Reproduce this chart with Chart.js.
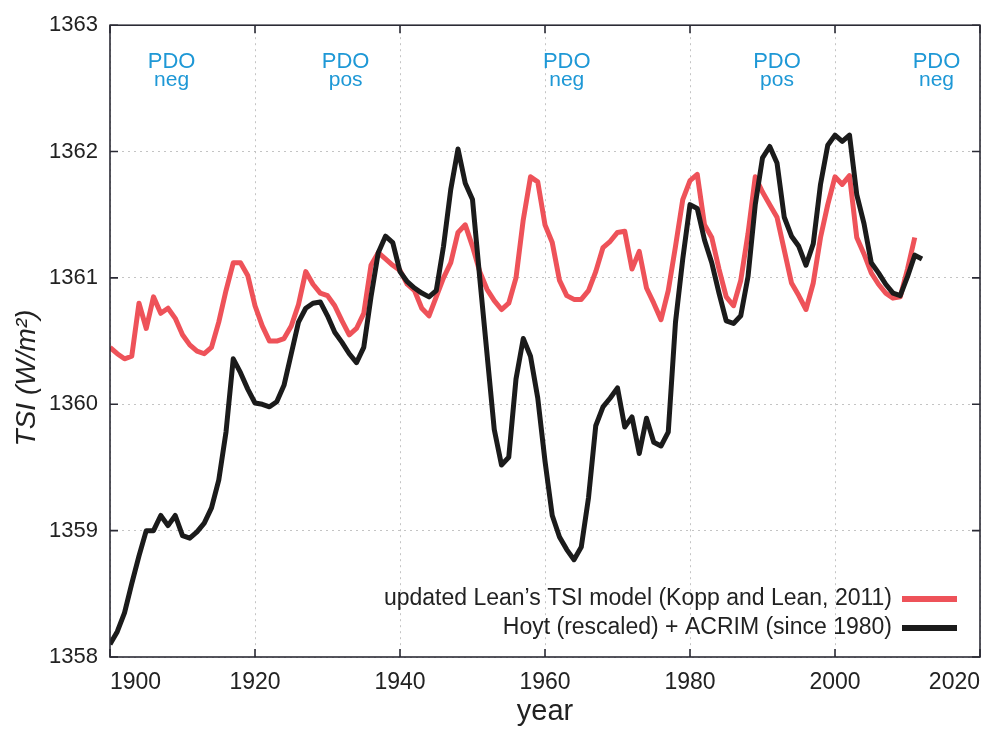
<!DOCTYPE html>
<html>
<head>
<meta charset="utf-8">
<title>TSI reconstructions and PDO phases</title>
<script src="https://cdn.jsdelivr.net/npm/chart.js@4.4.0/dist/chart.umd.min.js"></script>
<style>
  html, body { margin: 0; padding: 0; background: #fff; }
</style>
</head>
<body>
<canvas id="tsi" width="986" height="731"></canvas>
<script>
// ── Data (annual means, W/m2) ─────────────────────────────────────────
var startYear = 1900;

// updated Lean's TSI model, 1900..2011
var leanTSI = [
  1360.45, 1360.40, 1360.36, 1360.38, 1360.80, 1360.60, 1360.85, 1360.72, 1360.76, 1360.68,
  1360.55, 1360.47, 1360.42, 1360.40, 1360.45, 1360.65, 1360.90, 1361.12, 1361.12, 1361.02,
  1360.78, 1360.62, 1360.50, 1360.50, 1360.52, 1360.62, 1360.79, 1361.05, 1360.95, 1360.88,
  1360.86, 1360.78, 1360.66, 1360.55, 1360.60, 1360.72, 1361.10, 1361.20, 1361.15, 1361.10,
  1361.06, 1360.95, 1360.90, 1360.76, 1360.70, 1360.85, 1361.00, 1361.12, 1361.36, 1361.42,
  1361.25, 1361.05, 1360.91, 1360.82, 1360.75, 1360.80, 1361.00, 1361.46, 1361.80, 1361.76,
  1361.42, 1361.28, 1360.98, 1360.86, 1360.83, 1360.83, 1360.90, 1361.05, 1361.24, 1361.29,
  1361.36, 1361.37, 1361.07, 1361.21, 1360.92, 1360.80, 1360.67, 1360.90, 1361.25, 1361.62,
  1361.77, 1361.82, 1361.42, 1361.32, 1361.07, 1360.85, 1360.78, 1360.98, 1361.35, 1361.80,
  1361.68, 1361.58, 1361.48, 1361.22, 1360.96, 1360.86, 1360.75, 1360.96, 1361.32, 1361.58,
  1361.80, 1361.74, 1361.81, 1361.32, 1361.19, 1361.04, 1360.95, 1360.88, 1360.84, 1360.85,
  1361.07, 1361.32
];

// Hoyt (rescaled) + ACRIM, 1900..2012
var hoytACRIM = [
  1358.10, 1358.20, 1358.35, 1358.58, 1358.80, 1359.00, 1359.00, 1359.12, 1359.04, 1359.12,
  1358.96, 1358.94, 1358.99, 1359.06, 1359.18, 1359.40, 1359.78, 1360.36, 1360.25, 1360.12,
  1360.01, 1360.00, 1359.98, 1360.02, 1360.15, 1360.40, 1360.65, 1360.76, 1360.80, 1360.81,
  1360.70, 1360.57, 1360.49, 1360.40, 1360.33, 1360.45, 1360.85, 1361.20, 1361.33, 1361.28,
  1361.05, 1360.97, 1360.92, 1360.88, 1360.85, 1360.90, 1361.25, 1361.70, 1362.02, 1361.75,
  1361.62, 1361.00, 1360.40, 1359.80, 1359.52, 1359.58, 1360.20, 1360.52, 1360.38, 1360.05,
  1359.55, 1359.12, 1358.95, 1358.85, 1358.77, 1358.87, 1359.26, 1359.83, 1359.98, 1360.05,
  1360.13, 1359.82, 1359.90, 1359.61, 1359.89, 1359.70, 1359.67, 1359.78, 1360.65, 1361.15,
  1361.58, 1361.55, 1361.30, 1361.12, 1360.88, 1360.66, 1360.64, 1360.70, 1361.01, 1361.58,
  1361.95, 1362.04, 1361.91, 1361.48, 1361.33, 1361.25, 1361.10, 1361.27, 1361.74, 1362.05,
  1362.13, 1362.08, 1362.13, 1361.66, 1361.43, 1361.12, 1361.04, 1360.95, 1360.88, 1360.86,
  1361.01, 1361.18, 1361.15
];

var seriesLabels = [
  'updated Lean\u2019s TSI model (Kopp and Lean, 2011)',
  'Hoyt (rescaled) + ACRIM (since 1980)'
];

var xTicks = [1900, 1920, 1940, 1960, 1980, 2000, 2020];
var yTicks = [1358, 1359, 1360, 1361, 1362, 1363];

// PDO phase labels along the top of the plot
var pdoYears = [1908.5, 1932.5, 1963, 1992, 2014];
var pdoPhases = ['neg', 'pos', 'neg', 'pos', 'neg'];
var pdoValue = 1362.66;

// ── Helpers ───────────────────────────────────────────────────────────
function toPoints(values) {
  return values.map(function(v, i) { return { x: startYear + i, y: v }; });
}

var FONT = '"Liberation Sans", Arial, Helvetica, sans-serif';
var TEXT = '#222';

// ── Frame, inward ticks, annotations, legend, y title ────────────────
var decorations = {
  id: 'decorations',
  afterDraw: function(chart) {
    var ctx = chart.ctx;
    var a = chart.chartArea;
    var xs = chart.scales.x, ys = chart.scales.y;
    var tickLen = 8;

    ctx.save();
    // plot frame
    ctx.strokeStyle = '#2b2b35';
    ctx.lineWidth = 1.6;
    ctx.strokeRect(a.left, a.top, a.right - a.left, a.bottom - a.top);

    // inward tick marks
    ctx.beginPath();
    yTicks.forEach(function(v) {
      var py = ys.getPixelForValue(v);
      ctx.moveTo(a.left, py); ctx.lineTo(a.left + tickLen, py);
      ctx.moveTo(a.right, py); ctx.lineTo(a.right - tickLen, py);
    });
    xTicks.forEach(function(v) {
      var px = xs.getPixelForValue(v);
      ctx.moveTo(px, a.bottom); ctx.lineTo(px, a.bottom - tickLen);
      ctx.moveTo(px, a.top); ctx.lineTo(px, a.top + tickLen);
    });
    ctx.stroke();

    // PDO labels
    ctx.fillStyle = '#1e98d6';
    ctx.textAlign = 'center';
    ctx.textBaseline = 'alphabetic';
    pdoYears.forEach(function(yr, i) {
      var px = xs.getPixelForValue(yr);
      var py = ys.getPixelForValue(pdoValue);
      ctx.font = '22px ' + FONT;
      ctx.fillText('PDO', px, py);
      ctx.font = '21px ' + FONT;
      ctx.fillText(pdoPhases[i], px, py + 18);
    });

    // legend (bottom right, inside the plot)
    ctx.font = '23px ' + FONT;
    ctx.textAlign = 'right';
    ctx.textBaseline = 'middle';
    chart.data.datasets.forEach(function(ds, i) {
      var ly = a.bottom - 58 + i * 29;
      ctx.fillStyle = TEXT;
      ctx.fillText(ds.label, a.right - 88, ly);
      ctx.strokeStyle = ds.borderColor;
      ctx.lineWidth = 6;
      ctx.beginPath();
      ctx.moveTo(a.right - 78, ly);
      ctx.lineTo(a.right - 23, ly);
      ctx.stroke();
    });

    // y axis title
    ctx.translate(27, 378);
    ctx.rotate(-Math.PI / 2);
    ctx.fillStyle = TEXT;
    ctx.font = 'italic 28px ' + FONT;
    ctx.textAlign = 'center';
    ctx.textBaseline = 'middle';
    ctx.fillText('TSI (W/m\u00B2)', 0, 0);
    ctx.restore();
  }
};

// ── Chart ─────────────────────────────────────────────────────────────
var canvas = document.getElementById('tsi');
new Chart(canvas.getContext('2d'), {
  type: 'line',
  data: {
    datasets: [
      {
        label: seriesLabels[0],
        data: toPoints(leanTSI),
        borderColor: '#ee5259',
        borderWidth: 5,
        pointRadius: 0,
        tension: 0,
        borderJoinStyle: 'round',
        fill: false,
        order: 2
      },
      {
        label: seriesLabels[1],
        data: toPoints(hoytACRIM),
        borderColor: '#1b1b1b',
        borderWidth: 5,
        pointRadius: 0,
        tension: 0,
        borderJoinStyle: 'round',
        fill: false,
        order: 1
      }
    ]
  },
  options: {
    responsive: false,
    animation: false,
    layout: { autoPadding: false, padding: { top: 23, right: 6, left: 0, bottom: 0 } },
    plugins: {
      legend: { display: false },
      tooltip: { enabled: false }
    },
    scales: {
      x: {
        type: 'linear',
        min: 1900,
        max: 2020,
        afterBuildTicks: function(scale) {
          scale.ticks = xTicks.map(function(v) { return { value: v }; });
        },
        afterFit: function(scale) {
          scale.height = 74;
          // no extra side padding for the end labels
          scale.paddingLeft = 0;
          scale.paddingRight = 0;
        },
        ticks: {
          font: { size: 23, family: FONT },
          color: TEXT,
          padding: 12,
          align: 'inner',
          maxRotation: 0,
          callback: function(v) { return String(v); }
        },
        grid: { color: '#c4c4c4', lineWidth: 1, drawTicks: false },
        border: { display: false, dash: [2, 4] },
        title: {
          display: true,
          text: 'year',
          color: TEXT,
          font: { size: 29, family: FONT },
          padding: { top: 0, bottom: 2 }
        }
      },
      y: {
        min: 1358,
        max: 1363,
        afterBuildTicks: function(scale) {
          scale.ticks = yTicks.map(function(v) { return { value: v }; });
        },
        afterFit: function(scale) { scale.width = 110; },
        ticks: {
          font: { size: 22, family: FONT },
          color: TEXT,
          padding: 12,
          callback: function(v) { return String(v); }
        },
        grid: { color: '#c4c4c4', lineWidth: 1, drawTicks: false },
        border: { display: false, dash: [2, 4] }
      }
    }
  },
  plugins: [decorations]
});
</script>
</body>
</html>
